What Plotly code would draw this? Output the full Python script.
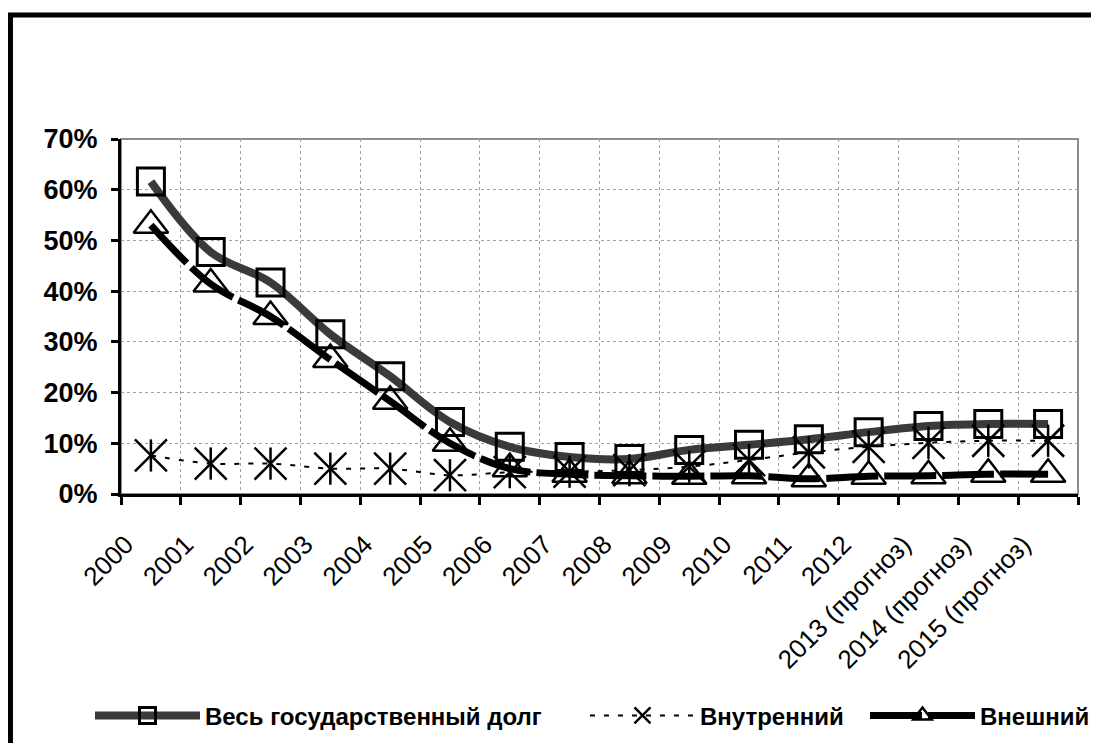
import plotly.graph_objects as go

years = ["2000", "2001", "2002", "2003", "2004", "2005", "2006", "2007", "2008",
         "2009", "2010", "2011", "2012", "2013 (прогноз)", "2014 (прогноз)", "2015 (прогноз)"]
total = [61.6, 47.7, 41.7, 31.5, 23.2, 14.2, 9.3, 7.3, 6.9, 8.7, 9.7, 10.8, 12.2, 13.4, 13.8, 13.8]
domestic = [7.6, 6.0, 6.0, 5.0, 5.0, 3.7, 4.3, 4.4, 4.7, 5.4, 6.7, 8.2, 9.3, 10.1, 10.5, 10.5]
external = [53.0, 41.4, 35.0, 26.5, 18.3, 10.0, 5.0, 3.9, 3.6, 3.5, 3.6, 3.0, 3.5, 3.6, 3.9, 3.9]

names = ["Весь государственный долг", "Внутренний", "Внешний"]

FONT = "Liberation Sans, Arial, sans-serif"

fig = go.Figure()

fig.add_trace(go.Scatter(
    x=years, y=total, name=names[0], mode="lines+markers", legend="legend",
    line=dict(color="#3a3a3a", width=8, shape="spline", smoothing=1.0),
    marker=dict(symbol="square-open", size=27, color="black", line=dict(width=3, color="black")),
))
fig.add_trace(go.Scatter(
    x=years, y=domestic, name=names[1], mode="lines+markers", legend="legend2",
    line=dict(color="black", width=2, dash="5px,9px", shape="spline", smoothing=1.0),
    marker=dict(symbol="x-thin-open", size=32, color="black", line=dict(width=2.5, color="black")),
))
fig.add_trace(go.Scatter(
    x=years, y=domestic, name=names[1], mode="markers", showlegend=False,
    marker=dict(symbol="line-ns-open", size=23, color="black", line=dict(width=2.5, color="black")),
))
fig.add_trace(go.Scatter(
    x=years, y=external, name=names[2], mode="lines+markers", legend="legend3",
    line=dict(color="black", width=7, dash="52px,6px", shape="spline", smoothing=1.0),
    marker=dict(symbol="triangle-up-open", size=30, color="black", line=dict(width=2.5, color="black")),
))

legend_font = dict(family=FONT, size=24, color="black", weight="bold")
common_legend = dict(orientation="h", xanchor="left", y=-0.625, yanchor="middle",
                     font=legend_font, itemwidth=105, bgcolor="rgba(0,0,0,0)", borderwidth=0)

fig.update_layout(
    width=1099, height=743,
    margin=dict(l=113, r=29, t=131, b=253),
    paper_bgcolor="white", plot_bgcolor="white",
    font=dict(family=FONT, color="black"),
    showlegend=True,
    legend=dict(x=-0.0324, **common_legend),
    legend2=dict(x=0.4848, **common_legend),
    legend3=dict(x=0.7774, **common_legend),
    shapes=[
        dict(type="rect", xref="x domain", yref="y domain", x0=0, x1=1, y0=0, y1=1,
             line=dict(color="#8c8c8c", width=2), layer="below"),
        dict(type="rect", xref="paper", yref="paper", x0=-0.1155, x1=1.0178, y0=-1.0, y1=1.3496,
             line=dict(color="black", width=5), layer="above"),
    ],
)

fig.update_xaxes(
    type="category", range=[-0.5, 15.5], tickson="boundaries",
    showline=True, linecolor="black", linewidth=3,
    ticks="outside", ticklen=8, tickwidth=2.5, tickcolor="black",
    showgrid=True, gridcolor="#a0a0a0", griddash="dot", gridwidth=1,
    tickangle=-45, tickfont=dict(family=FONT, size=26, color="black"),
    ticklabelstandoff=22, ticklabelshift=-25,
    zeroline=False,
)
fig.update_yaxes(
    range=[0, 70], dtick=10, ticksuffix="%",
    showline=True, linecolor="black", linewidth=3,
    ticks="outside", ticklen=7, tickwidth=2.5, tickcolor="black",
    showgrid=True, gridcolor="#a0a0a0", griddash="dot", gridwidth=1,
    tickfont=dict(family=FONT, size=27, color="black", weight="bold"),
    ticklabelstandoff=8, zeroline=False,
)

fig.write_html("out.html")
